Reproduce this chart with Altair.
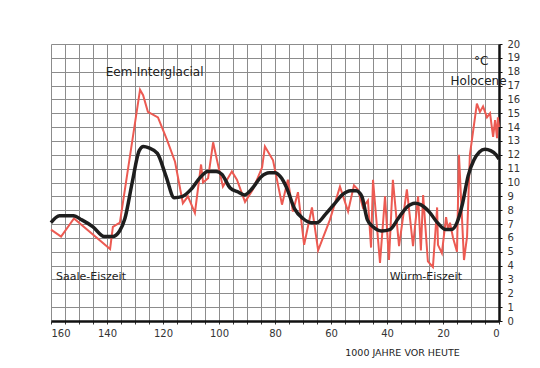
import altair as alt
import pandas as pd

# Red (raw) temperature curve: thousand years before present, °C
red_years = [160, 156.4, 151.8, 138.9, 137.9, 135.4, 128.2, 127.1, 125.4, 121.8,
             118.6, 115.7, 112.9, 111.1, 108.6, 106.4, 105.7, 103.9, 102.1, 100.7,
             98.6, 95.4, 93.6, 90.7, 87.9, 84.6, 83.6, 80.7, 77.5, 75.4,
             73.6, 71.8, 69.6, 66.8, 64.6, 60.4, 56.8, 53.9, 51.8, 50.4,
             48.6, 46.8, 45.7, 45.0, 42.5, 40.7, 39.3, 37.9, 35.7, 32.9,
             30.7, 28.9, 27.9, 27.1, 25.4, 23.6, 22.1, 21.8, 20.4, 18.9,
             18.2, 17.5, 16.4, 15.0, 14.3, 12.5, 11.4, 10.4, 7.9, 6.8,
             5.7, 4.3, 3.2, 2.1, 1.4, 0.7, 0.4, 0]
red_temps = [6.6, 6.1, 7.4, 5.2, 6.8, 7.1, 16.7, 16.3, 15.1, 14.7,
             13.1, 11.5, 8.5, 9.0, 7.8, 11.3, 10.0, 10.3, 12.9, 11.6,
             9.7, 10.8, 10.2, 8.6, 9.5, 11.1, 12.6, 11.6, 8.4, 10.2,
             7.9, 9.3, 5.5, 8.2, 5.1, 7.3, 9.7, 7.9, 9.8, 9.5,
             8.2, 8.7, 5.3, 10.2, 4.2, 9.0, 4.4, 10.2, 5.4, 9.5,
             5.4, 9.0, 5.1, 9.1, 4.3, 3.9, 8.2, 5.5, 4.9, 7.5,
             6.6, 7.1, 6.0, 5.0, 12.0, 4.4, 6.1, 12.0, 15.7, 15.1,
             15.5, 14.7, 15.0, 13.3, 14.5, 13.2, 14.7, 14.0]

# Black (smoothed) curve
smooth_years = [160, 157, 152, 149, 145, 141, 138, 135.5, 133.6, 131,
                128.5, 127, 125, 122, 119, 116, 113, 110, 107, 104,
                101, 99, 96, 93, 91, 88, 85, 82, 80, 78,
                76, 73, 70, 67, 65, 62, 59, 56, 53, 51,
                49, 47, 45, 42, 39, 36, 33, 30, 28, 25,
                22, 19, 17, 15, 13, 11, 9, 7, 5, 3, 1, 0]
smooth_temps = [7.1, 7.6, 7.6, 7.3, 6.8, 6.1, 6.1, 6.5, 7.4, 10.0,
                12.3, 12.6, 12.5, 12.1, 10.5, 8.9, 9.0, 9.5, 10.3, 10.8,
                10.8, 10.6, 9.6, 9.3, 9.1, 9.6, 10.4, 10.7, 10.7, 10.4,
                9.7, 8.1, 7.4, 7.1, 7.1, 7.7, 8.4, 9.1, 9.4, 9.4,
                9.0, 7.3, 6.8, 6.5, 6.6, 7.4, 8.2, 8.5, 8.4, 7.9,
                7.1, 6.6, 6.6, 7.1, 8.5, 10.5, 11.6, 12.2, 12.4, 12.3, 12.0, 11.7]

# Annotations
note_texts = ["Eem-Interglacial", "Holocene", "°C", "Saale-Eiszeit", "Würm-Eiszeit"]
note_x = [123, 7.3, 6.4, 145.7, 26.1]
note_y = [18.0, 17.3, 18.8, 3.2, 3.2]
note_sizes = [12, 12, 12, 11, 11]

x_ticks = list(range(0, 161, 5))
y_ticks = list(range(0, 21))

red_df = pd.DataFrame({"year": red_years, "temp": red_temps})
smooth_df = pd.DataFrame({"year": smooth_years, "temp": smooth_temps})
notes_df = pd.DataFrame({"text": note_texts, "year": note_x, "temp": note_y,
                         "size": note_sizes})

FONT = "DejaVu Sans"

x_scale = alt.Scale(domain=[0, 160], reverse=True, nice=False, zero=False)
y_scale = alt.Scale(domain=[0, 20], nice=False, zero=False)

x_axis = alt.Axis(
    values=x_ticks, grid=True, gridColor="#8c8c8c", gridWidth=1,
    labelExpr="datum.value % 10 == 0 ? datum.label : ''",
    domainColor="#111111", domainWidth=2.5, tickSize=3, tickColor="#333333",
    labelFont=FONT, labelFontSize=10, labelColor="#333333", labelPadding=4,
    title="1000 JAHRE VOR HEUTE", titleFont=FONT, titleFontSize=9.5,
    titleFontWeight="normal", titleColor="#222222",
    titleAnchor="start", titleAlign="center", titleX=351, titleY=26,
)
y_axis = alt.Axis(
    orient="right", values=y_ticks, grid=True, gridColor="#8c8c8c", gridWidth=1,
    domainColor="#111111", domainWidth=2.5, tickSize=3, tickColor="#111111",
    labelFont=FONT, labelFontSize=10, labelColor="#333333", labelPadding=5,
    title=None,
)

enc_x = alt.X("year:Q", scale=x_scale, axis=x_axis)
enc_y = alt.Y("temp:Q", scale=y_scale, axis=y_axis)

red = alt.Chart(red_df).mark_line(color="#ec5a52", strokeWidth=2).encode(
    x=enc_x, y=enc_y, order=alt.Order("year:Q", sort="descending")
)
smooth = alt.Chart(smooth_df).mark_line(
    color="#1e1e1e", strokeWidth=3.5, interpolate="monotone"
).encode(
    x=enc_x, y=enc_y, order=alt.Order("year:Q", sort="descending")
)
notes = alt.Chart(notes_df).mark_text(
    font=FONT, color="#222222", align="center", baseline="middle"
).encode(
    x=enc_x, y=enc_y, text="text:N",
    size=alt.Size("size:Q", scale=None, legend=None),
)

chart = alt.layer(red, smooth, notes).properties(
    width=448, height=277,
    autosize=alt.AutoSizeParams(type="none"),
    padding={"left": 43, "top": 36, "right": 30, "bottom": 40},
    background="white",
).configure_view(strokeWidth=0)

chart.save("out.html", embed_options={"renderer": "svg", "actions": False})
